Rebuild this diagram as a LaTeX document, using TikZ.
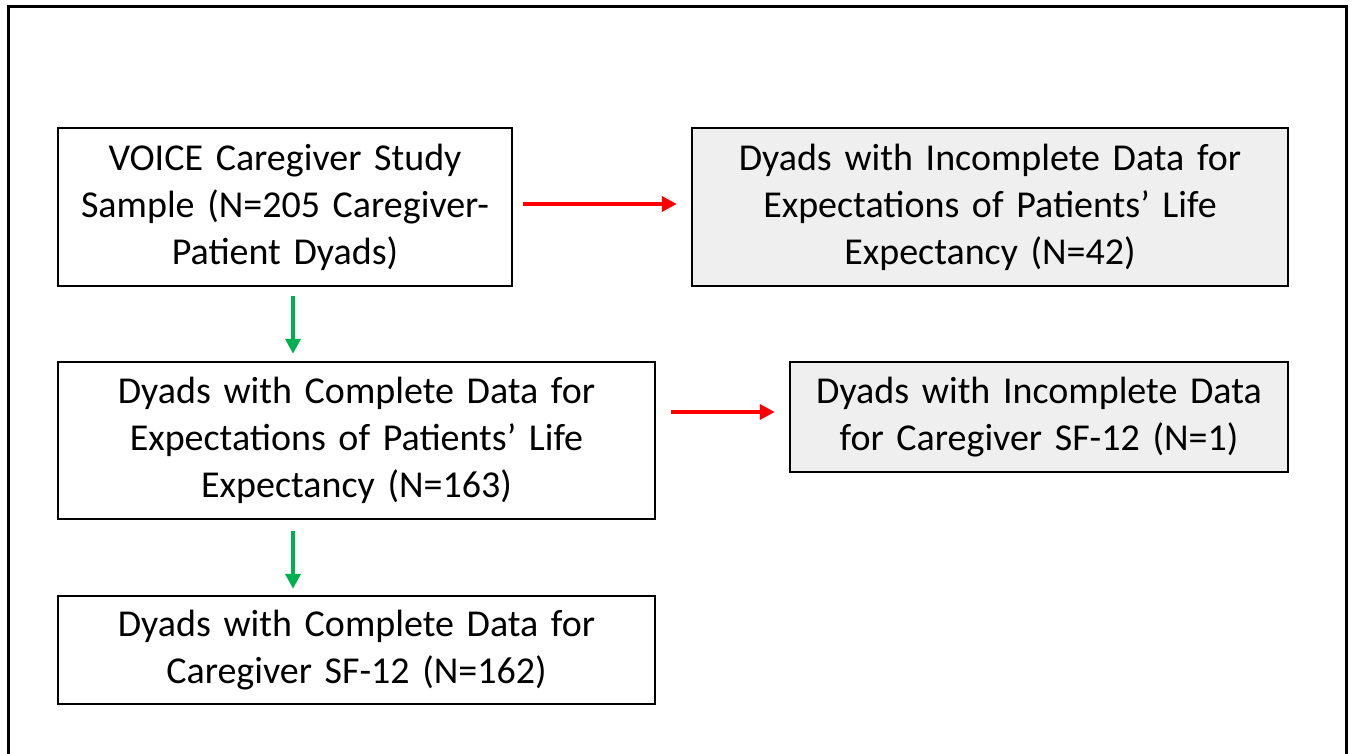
\documentclass[tikz,border=0pt]{standalone}
\usepackage{fontspec}
\setmainfont{Carlito}
\usetikzlibrary{arrows.meta}
\definecolor{boxgray}{HTML}{EFEFEF}
\definecolor{arrred}{HTML}{FF0000}
\definecolor{arrgreen}{HTML}{00B050}
\begin{document}
\begin{tikzpicture}[x=1pt,y=-1pt,
  box/.style={draw=black, line width=2.5pt, inner sep=0pt, align=center,
    font=\fontsize{38}{47}\selectfont},
  graybox/.style={box, fill=boxgray},
  redarrow/.style={draw=arrred, line width=4pt, -{Triangle[length=15pt,width=15pt]}},
  greenarrow/.style={draw=arrgreen, line width=4pt, -{Triangle[length=15pt,width=15pt]}}]
\useasboundingbox (0,0) rectangle (1352,754);
\fill[white] (0,0) rectangle (1352,754);
\draw[line width=3pt] (8,7) rectangle (1346,780);
\node[box, minimum width=454pt, minimum height=158pt, text width=440pt] (A) at (285,207)
  {VOICE Caregiver Study\\Sample (N=205 Caregiver-\\Patient Dyads)};
\node[graybox, minimum width=596pt, minimum height=158pt, text width=580pt] (B) at (990,207)
  {Dyads with Incomplete Data for\\Expectations of Patients’ Life\\Expectancy (N=42)};
\node[box, minimum width=597pt, minimum height=157pt, text width=580pt] (C) at (356.5,440.5)
  {Dyads with Complete Data for\\Expectations of Patients’ Life\\Expectancy (N=163)};
\node[graybox, minimum width=498pt, minimum height=110pt, text width=480pt] (D) at (1039,417)
  {Dyads with Incomplete Data\\for Caregiver SF-12 (N=1)};
\node[box, minimum width=597pt, minimum height=108pt, text width=580pt] (E) at (356.5,650)
  {Dyads with Complete Data for\\Caregiver SF-12 (N=162)};
\draw[redarrow] ([xshift=10pt,yshift=3pt]A.east) -- ([xshift=-14pt,yshift=3pt]B.west);
\path (C.east) ++(15pt,0) coordinate (c1);
\draw[redarrow] ([yshift=5pt]c1 |- D.west) -- ([xshift=-14pt,yshift=5pt]D.west);
\draw[greenarrow, shorten <=9pt, shorten >=7pt] ([xshift=8pt]A.south) -- ([xshift=8pt]A.south |- C.north);
\draw[greenarrow, shorten <=11pt, shorten >=6pt] ([xshift=-63.5pt]C.south) -- ([xshift=-63.5pt]C.south |- E.north);
\end{tikzpicture}
\end{document}
